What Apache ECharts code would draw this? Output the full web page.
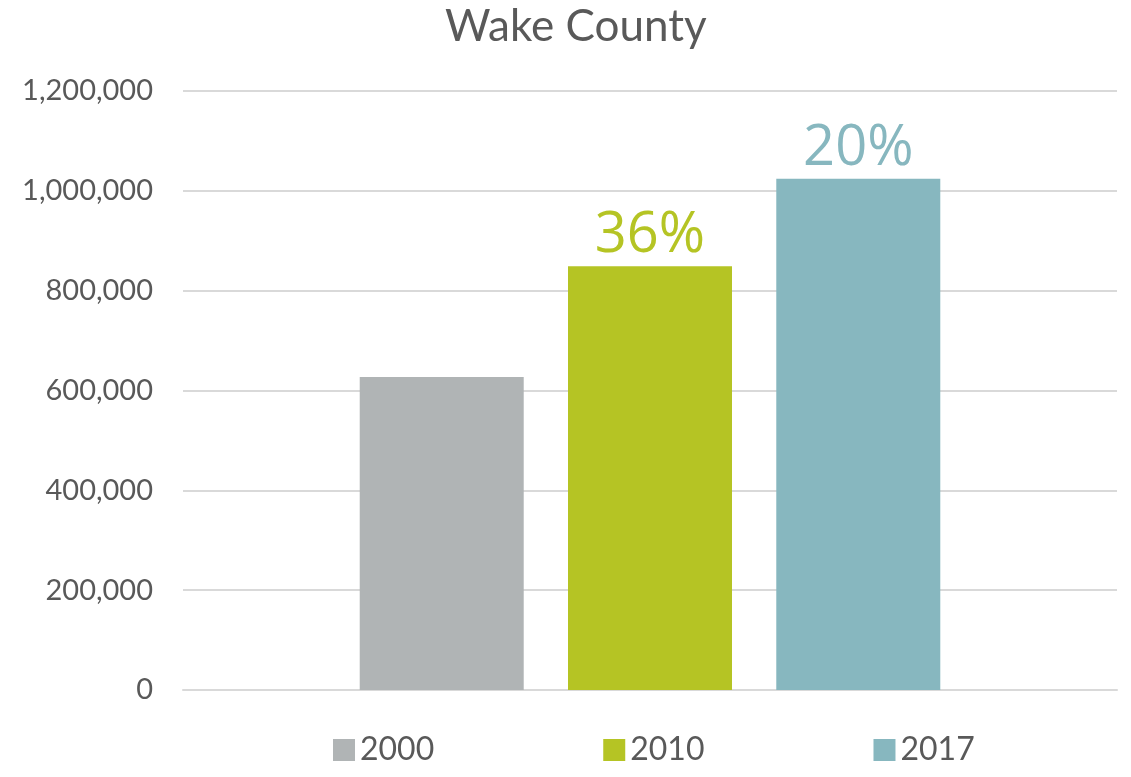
<!DOCTYPE html>
<html>
<head>
<meta charset="utf-8">
<script src="https://cdn.jsdelivr.net/npm/echarts@6/dist/echarts.min.js"></script>
<style>
  html, body { margin: 0; padding: 0; background: #fff; }
  #main { width: 1131px; height: 777px; }
</style>
</head>
<body>
<div id="main"></div>
<script>
// data
const years = ['2000', '2010', '2017'];
const population = [627000, 849000, 1024000];
const growthLabels = ['', '36%', '20%'];
const colors = ['#B0B4B5', '#B5C424', '#87B7BF'];

const chart = echarts.init(document.getElementById('main'));

const series = years.map(function (y, i) {
    return {
        name: y,
        type: 'bar',
        barWidth: 164,
        barGap: '27%',
        data: [population[i]],
        itemStyle: { color: colors[i] },
        label: {
            show: growthLabels[i] !== '',
            position: 'top',
            distance: 2,
            formatter: growthLabels[i],
            color: colors[i],
            fontFamily: 'Open Sans',
            fontSize: 56
        }
    };
});

chart.setOption({
    animation: false,
    title: {
        text: 'Wake County',
        left: 440,
        top: 0,
        textStyle: {
            fontFamily: 'Lato',
            fontWeight: 'normal',
            fontSize: 44,
            color: '#595959'
        }
    },
    legend: {
        data: years,
        left: 328,
        bottom: 6,
        icon: 'rect',
        itemWidth: 22,
        itemHeight: 22,
        itemGap: 169,
        textStyle: {
            fontFamily: 'Lato',
            fontSize: 32,
            color: '#595959'
        }
    },
    grid: {
        left: 183,
        right: 14,
        top: 91,
        bottom: 87
    },
    xAxis: {
        type: 'category',
        data: [''],
        axisLine: { lineStyle: { color: '#D9D9D9', width: 2 } },
        axisTick: { show: false },
        axisLabel: { show: false }
    },
    yAxis: {
        type: 'value',
        min: 0,
        max: 1200000,
        interval: 200000,
        axisLine: { show: false },
        axisTick: { show: false },
        splitLine: { lineStyle: { color: '#D9D9D9', width: 2 } },
        axisLabel: {
            margin: 30,
            fontFamily: 'Lato',
            fontSize: 29,
            color: '#595959',
            formatter: function (v) { return v.toLocaleString('en-US'); }
        }
    },
    series: series
});
</script>
</body>
</html>
